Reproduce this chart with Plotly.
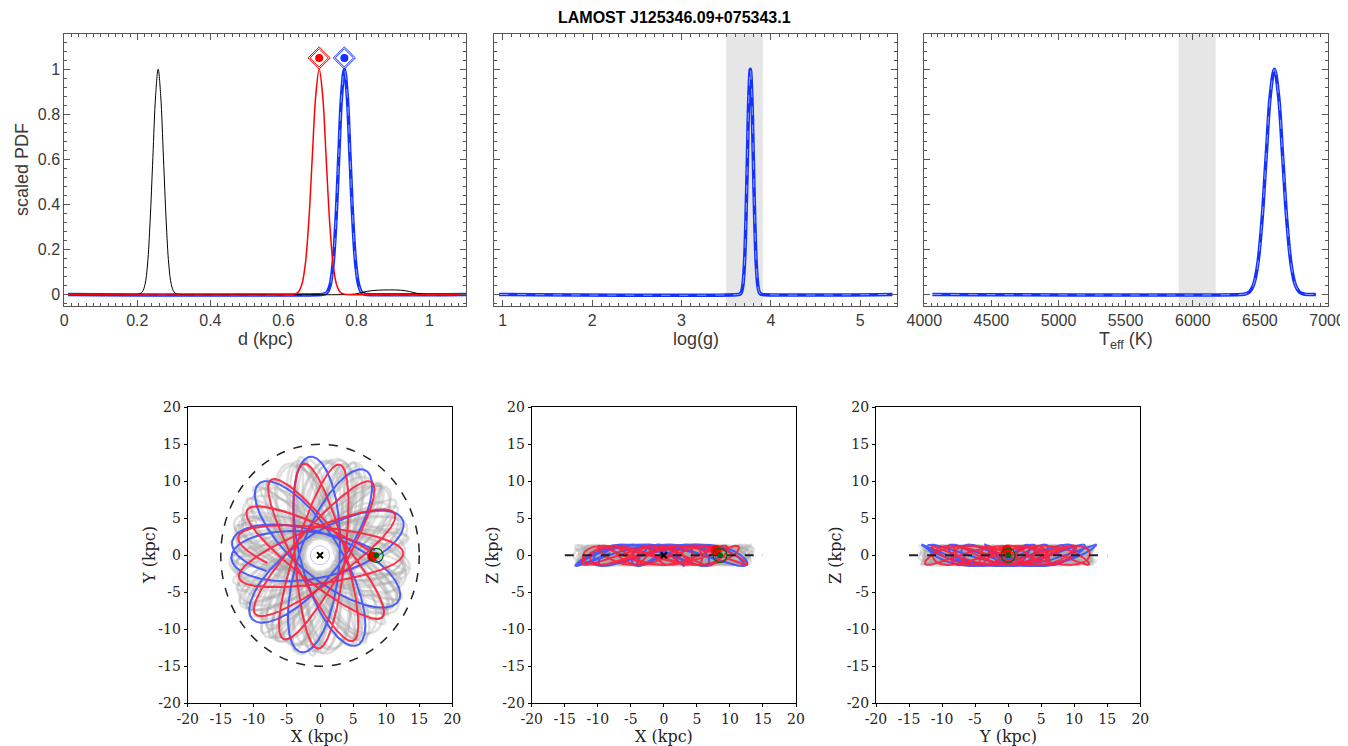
import numpy as np
import plotly.graph_objects as go

# ------------------------------------------------------------------ data
TITLE = "LAMOST J125346.09+075343.1"

d_black_x = [0.010, 0.199, 0.206, 0.2135, 0.221, 0.228, 0.235, 0.2425, 0.250, 0.257, 0.264, 0.2715,
             0.279, 0.286, 0.293, 0.3005, 0.308, 0.315, 0.50, 0.78, 0.80, 0.83, 0.86, 0.89, 0.92,
             0.945, 0.965, 0.985, 1.00, 1.10]
d_black_y = [0, 0, 0.002, 0.011, 0.044, 0.135, 0.325, 0.607, 0.882, 1.0, 0.882, 0.607,
             0.325, 0.135, 0.044, 0.011, 0.002, 0, 0, 0, 0.003, 0.014, 0.019, 0.020, 0.019,
             0.013, 0.005, 0.001, 0, 0]

shape_y = [0, 0.002, 0.011, 0.044, 0.135, 0.325, 0.607, 0.882, 1.0, 0.882, 0.607, 0.325, 0.135,
           0.044, 0.011, 0.002, 0]

d_red_x = [0.010, 0.622, 0.6315, 0.641, 0.6505, 0.660, 0.6695, 0.679, 0.6885, 0.698, 0.7075, 0.717,
           0.7265, 0.736, 0.7455, 0.755, 0.7645, 0.774, 1.10]
d_red_y = [0] + shape_y + [0]

d_blue_x = [0.010, 0.705, 0.7128, 0.7205, 0.7283, 0.736, 0.7438, 0.7515, 0.7593, 0.767, 0.7748, 0.7825,
            0.7903, 0.798, 0.8058, 0.8135, 0.8213, 0.829, 1.10]
d_blue_y = [0] + shape_y + [0]

logg_x = [0.96, 3.638, 3.6545, 3.671, 3.6875, 3.704, 3.7205, 3.737, 3.7535, 3.770, 3.7865, 3.803,
          3.8195, 3.836, 3.8525, 3.869, 3.8855, 3.902, 5.36]
logg_y = [0] + shape_y + [0]

teff_x = [4060, 6360, 6391, 6422, 6453, 6484, 6515, 6546, 6577, 6608, 6639, 6670, 6701, 6732, 6763,
          6794, 6825, 6856, 6917]
teff_y = [0] + shape_y + [0]

logg_band = [3.50, 3.91]
teff_band = [5895, 6170]

peak_red = [0.698, 1.05]
peak_blue = [0.767, 1.05]

# orbit parameters (rosette of precessing ellipses): semi-major, semi-minor (kpc),
# start orientation, precession per revolution (deg), revolutions, start phase,
# vertical amplitude (kpc), vertical frequency, vertical phase
red_orbit = dict(a=12.6, b=3.8, al0=-20, dal=-25, nrev=7, t0=0.94, zmax=1.3, nu=2.3, zph=0.57)
blue_orbit = dict(a=13.4, b=3.0, al0=-12, dal=38, nrev=5, t0=0.93, zmax=1.45, nu=2.2, zph=0.2)

gray_a = [12.6, 13.2, 13.6, 12.9, 13.4, 12.4, 13.0, 13.7, 12.8, 13.3, 13.1, 12.7]
gray_b = [3.6, 2.8, 3.3, 4.0, 2.4, 3.0, 3.7, 3.1, 2.6, 3.8, 2.2, 3.4]
gray_al0 = [0, 20, 40, 60, 80, 100, 120, 140, 160, 10, 70, 130]
gray_dal = [-22, 30, -35, 28, -18, 33, -26, 24, -30, 36, -28, 31]
gray_nrev = [6, 5, 6, 5, 7, 5, 6, 5, 6, 5, 6, 5]
gray_zmax = [1.1, 1.3, 0.9, 1.2, 1.4, 1.0, 1.2, 1.3, 1.1, 0.9, 1.25, 1.05]
gray_nu = [2.2, 2.4, 2.3, 2.5, 2.1, 2.35, 2.45, 2.25, 2.15, 2.55, 2.28, 2.38]

sun_pos = [8.5, 0.0, 0.0]
star_pos = [7.9, -0.2, 0.7]
disk_radius = 15

axis_ticks = [-20, -15, -10, -5, 0, 5, 10, 15, 20]
axis_ticktext = ["-20", "-15", "-10", "-5", "0", "5", "10", "15", "20"]

# ------------------------------------------------------------------ helpers
OFF = 8  # page body margin
W, H = 1348 - OFF, 746 - OFF


def px_x(p):
    return (p - OFF) / W


def px_y(p):
    return 1 - (p - OFF) / H


def orbit(a, b, al0, dal, nrev, t0, zmax, nu, zph, n_per_rev=360):
    t = np.linspace(t0, t0 + 2 * np.pi * nrev, int(n_per_rev * nrev))
    u = a * np.cos(t)
    v = b * np.sin(t)
    al = np.deg2rad(al0 + dal * (t - t0) / (2 * np.pi))
    x = u * np.cos(al) - v * np.sin(al)
    y = u * np.sin(al) + v * np.cos(al)
    z = zmax * np.sin(nu * (t - t0) + zph)
    return x, y, z


RED = "rgb(255,0,0)"
BLUE = "rgb(20,50,255)"
ORB_RED = "rgba(255,30,60,0.9)"
ORB_BLUE = "rgba(60,80,255,0.9)"
GRAY = "rgba(165,165,165,0.35)"

fig = go.Figure()

# ------------------------------------------------------------------ top panels
fig.add_trace(go.Scatter(x=d_blue_x, y=d_blue_y, mode="lines", line=dict(color=BLUE, width=3.5, shape="spline"),
                         xaxis="x", yaxis="y"))
fig.add_trace(go.Scatter(x=d_blue_x, y=d_blue_y, mode="lines",
                         line=dict(color="rgba(190,205,255,0.7)", width=1, dash="dash", shape="spline"),
                         xaxis="x", yaxis="y"))
fig.add_trace(go.Scatter(x=d_black_x, y=d_black_y, mode="lines", line=dict(color="black", width=1, shape="spline"),
                         xaxis="x", yaxis="y"))
fig.add_trace(go.Scatter(x=d_red_x, y=d_red_y, mode="lines", line=dict(color=RED, width=1.5, shape="spline"),
                         xaxis="x", yaxis="y"))
for pk, col in [(peak_red, RED), (peak_blue, BLUE)]:
    fig.add_trace(go.Scatter(x=[pk[0]], y=[pk[1]], mode="markers",
                             marker=dict(symbol="diamond-open", size=17, color=col, line=dict(width=1, color=col)),
                             xaxis="x", yaxis="y"))
    fig.add_trace(go.Scatter(x=[pk[0]], y=[pk[1]], mode="markers",
                             marker=dict(symbol="diamond-open", size=14, color=col, line=dict(width=1, color=col)),
                             xaxis="x", yaxis="y"))
    fig.add_trace(go.Scatter(x=[pk[0]], y=[pk[1]], mode="markers",
                             marker=dict(symbol="circle", size=8, color=col),
                             xaxis="x", yaxis="y"))

for xs, ys, ax, ay in [(logg_x, logg_y, "x2", "y2"), (teff_x, teff_y, "x3", "y3")]:
    fig.add_trace(go.Scatter(x=xs, y=ys, mode="lines", line=dict(color=BLUE, width=3.5, shape="spline"),
                             xaxis=ax, yaxis=ay))
    fig.add_trace(go.Scatter(x=xs, y=ys, mode="lines",
                             line=dict(color="rgba(190,205,255,0.7)", width=1, dash="dash", shape="spline"),
                             xaxis=ax, yaxis=ay))

shapes = [
    dict(type="rect", xref="x2", yref="y2 domain", x0=logg_band[0], x1=logg_band[1], y0=0, y1=1,
         fillcolor="#e6e6e6", line=dict(width=0), layer="below"),
    dict(type="rect", xref="x3", yref="y3 domain", x0=teff_band[0], x1=teff_band[1], y0=0, y1=1,
         fillcolor="#e6e6e6", line=dict(width=0), layer="below"),
    dict(type="circle", xref="x4", yref="y4", x0=-disk_radius, x1=disk_radius, y0=-disk_radius,
         y1=disk_radius, line=dict(color="#222", width=1.5, dash="dash"), layer="above"),
]

# ------------------------------------------------------------------ bottom panels
orbits = []
for i in range(len(gray_a)):
    orbits.append((orbit(gray_a[i], gray_b[i], gray_al0[i], gray_dal[i], gray_nrev[i], 0.9,
                         gray_zmax[i], gray_nu[i], 0.3 * i), GRAY, 2.5))
orbits.append((orbit(**blue_orbit), ORB_BLUE, 2))
orbits.append((orbit(**red_orbit), ORB_RED, 2))

panels = [("x4", "y4", 0, 1), ("x5", "y5", 0, 2), ("x6", "y6", 1, 2)]
for ax, ay, i, j in panels:
    for (xyz, col, w) in orbits:
        fig.add_trace(go.Scatter(x=xyz[i], y=xyz[j], mode="lines", line=dict(color=col, width=w),
                                 xaxis=ax, yaxis=ay))

# plane lines
for ax, ay in [("x5", "y5"), ("x6", "y6")]:
    fig.add_trace(go.Scatter(x=[-disk_radius, disk_radius], y=[0, 0], mode="lines",
                             line=dict(color="#222", width=2, dash="dash"), xaxis=ax, yaxis=ay))

# centre hole + markers
fig.add_trace(go.Scatter(x=[0], y=[0], mode="markers", marker=dict(symbol="circle", size=19, color="white",
                         line=dict(color="rgba(150,160,220,0.6)", width=1)), xaxis="x4", yaxis="y4"))
for ax, ay in [("x4", "y4"), ("x5", "y5")]:
    fig.add_trace(go.Scatter(x=[0], y=[0], mode="markers", marker=dict(symbol="x-thin", size=6,
                             line=dict(color="black", width=2)), xaxis=ax, yaxis=ay))
fig.add_trace(go.Scatter(x=[0], y=[0], mode="markers", marker=dict(symbol="circle", size=4, color="black"),
                         xaxis="x6", yaxis="y6"))

for ax, ay, i, j in panels:
    fig.add_trace(go.Scatter(x=[star_pos[i]], y=[star_pos[j]], mode="markers",
                             marker=dict(symbol="circle", size=10, color="red"), xaxis=ax, yaxis=ay))
    fig.add_trace(go.Scatter(x=[sun_pos[i]], y=[sun_pos[j]], mode="markers",
                             marker=dict(symbol="circle-open", size=14, color="darkgreen",
                                         line=dict(width=1.3, color="darkgreen")), xaxis=ax, yaxis=ay))
    fig.add_trace(go.Scatter(x=[sun_pos[i]], y=[sun_pos[j]], mode="markers",
                             marker=dict(symbol="circle", size=6, color="darkgreen"), xaxis=ax, yaxis=ay))

# ------------------------------------------------------------------ axes
TOPFONT = dict(family="Liberation Sans, Arial, sans-serif", size=16, color="#3a3a3a")
SERIF = dict(family="DejaVu Serif, serif", size=14, color="#222")


def top_axis(**kw):
    d = dict(showgrid=False, zeroline=False, showline=True, linecolor="#555", linewidth=1,
             mirror="allticks", ticks="inside", ticklen=6, tickcolor="#555", tickwidth=1,
             tickfont=TOPFONT, automargin=False)
    d.update(kw)
    return d


def bot_axis(**kw):
    d = dict(showgrid=False, zeroline=False, showline=True, linecolor="black", linewidth=1,
             mirror=True, ticks="outside", ticklen=3, tickcolor="black", tickwidth=1,
             tickfont=SERIF, range=[-20, 20], tickvals=axis_ticks, ticktext=axis_ticktext,
             automargin=False)
    d.update(kw)
    return d


ytop = [px_y(305.7), px_y(34.3)]
ybot = [px_y(703.3), px_y(407.3)]
yr = [-0.05, 1.155]
yminor = dict(ticks="inside", ticklen=3, tickcolor="#555", dtick=0.04, tick0=0)

layout = dict(
    width=W, height=H, margin=dict(l=0, r=0, t=0, b=0, autoexpand=False),
    paper_bgcolor="white", plot_bgcolor="white", showlegend=False, shapes=shapes,
    xaxis=top_axis(domain=[px_x(64.3), px_x(466)], range=[0, 1.1], dtick=0.2, tick0=0, anchor="y",
                   minor=dict(ticks="inside", ticklen=3, tickcolor="#555", dtick=0.02, tick0=0)),
    yaxis=top_axis(domain=ytop, range=yr, dtick=0.2, tick0=0, anchor="x", minor=yminor),
    xaxis2=top_axis(domain=[px_x(494.3), px_x(896.7)], range=[0.906, 5.407], dtick=1, tick0=0, anchor="y2",
                    minor=dict(ticks="inside", ticklen=3, tickcolor="#555", dtick=0.1, tick0=0)),
    yaxis2=top_axis(domain=ytop, range=yr, dtick=0.2, tick0=0, anchor="x2", showticklabels=False, minor=yminor),
    xaxis3=top_axis(domain=[px_x(924.3), px_x(1327.7)], range=[4000, 7005], dtick=500, tick0=4000, anchor="y3",
                    minor=dict(ticks="inside", ticklen=3, tickcolor="#555", dtick=50, tick0=4000)),
    yaxis3=top_axis(domain=ytop, range=yr, dtick=0.2, tick0=0, anchor="x3", showticklabels=False, minor=yminor),
    xaxis4=bot_axis(domain=[px_x(187.7), px_x(452.3)], anchor="y4"),
    yaxis4=bot_axis(domain=ybot, anchor="x4"),
    xaxis5=bot_axis(domain=[px_x(531.7), px_x(796)], anchor="y5"),
    yaxis5=bot_axis(domain=ybot, anchor="x5"),
    xaxis6=bot_axis(domain=[px_x(876), px_x(1140.3)], anchor="y6"),
    yaxis6=bot_axis(domain=ybot, anchor="x6"),
)
fig.update_layout(**layout)

TITLEFONT = dict(family="Liberation Sans, Arial, sans-serif", size=18, color="#3a3a3a")
SERIF_T = dict(family="DejaVu Serif, serif", size=16, color="#222")
ann = [
    dict(text="<b>%s</b>" % TITLE, x=px_x(674), y=px_y(18),
         font=dict(family="Liberation Sans, Arial, sans-serif", size=16, color="black")),
    dict(text="scaled PDF", x=px_x(22), y=px_y(170), textangle=-90, font=TITLEFONT),
    dict(text="d (kpc)", x=px_x(265), y=px_y(339), font=TITLEFONT),
    dict(text="log(g)", x=px_x(695.5), y=px_y(339), font=TITLEFONT),
    dict(text="T<sub>eff</sub> (K)", x=px_x(1126), y=px_y(341), font=TITLEFONT),
    dict(text="X (kpc)", x=px_x(320), y=px_y(736), font=SERIF_T),
    dict(text="X (kpc)", x=px_x(664), y=px_y(736), font=SERIF_T),
    dict(text="Y (kpc)", x=px_x(1008), y=px_y(736), font=SERIF_T),
    dict(text="Y (kpc)", x=px_x(149), y=px_y(555), textangle=-90, font=SERIF_T),
    dict(text="Z (kpc)", x=px_x(492), y=px_y(555), textangle=-90, font=SERIF_T),
    dict(text="Z (kpc)", x=px_x(835), y=px_y(555), textangle=-90, font=SERIF_T),
]
for a in ann:
    a.update(xref="paper", yref="paper", showarrow=False, xanchor="center", yanchor="middle")
fig.update_layout(annotations=ann)

fig.write_html("out.html")
